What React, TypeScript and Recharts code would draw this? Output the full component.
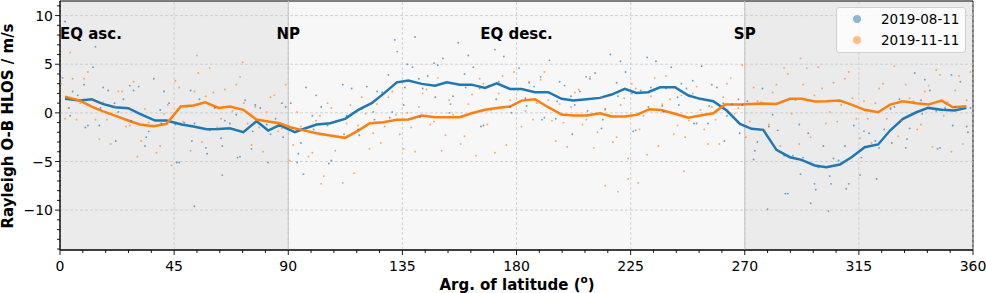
import {
  ComposedChart,
  Line,
  Scatter,
  XAxis,
  YAxis,
  ReferenceArea,
  ReferenceLine,
  ReferenceDot,
  Legend,
} from "recharts";

// binned means (arg. of latitude in deg, O-B in m/s)
const augMean: [number, number][] = [
  [2, 1.44], [7.9, 1.26], [12.5, 1.4], [16.8, 0.92], [21.7, 0.58], [26.9, 0.48],
  [31.5, -0.1], [37.5, -0.79], [42, -0.79], [48, -1.2], [52.6, -1.4], [57.8, -1.68],
  [62.5, -1.65], [67, -1.58], [72.3, -1.99], [77.5, -0.86], [82.1, -1.82], [86.5, -1.25],
  [92.6, -1.99], [96, -1.66], [101.2, -1.2], [106.5, -1.06], [112.4, -0.62], [117.6, 0.3],
  [122.9, 0.99], [127.5, 1.95], [132.8, 3.14], [137.4, 3.32], [142.6, 2.98], [147.9, 2.8],
  [152.5, 3.14], [157.7, 2.9], [162.3, 2.9], [167.6, 2.56], [172.2, 3.04], [177.4, 2.46],
  [182, 2.46], [187.3, 2.12], [192.5, 2.12], [197.8, 1.44], [202.4, 1.26], [207.6, 1.4],
  [212.9, 1.54], [217.5, 1.88], [222.7, 2.46], [227.3, 2.05], [231.9, 2.12], [236.6, 2.63],
  [242.5, 2.63], [247.8, 1.78], [252.4, 1.44], [257.6, 1.19], [262.9, 0.24], [268.1, -1.13],
  [272.7, -1.64], [277.3, -1.75], [282.5, -3.8], [287.8, -4.56], [292.4, -4.83], [297.6, -5.41],
  [302.2, -5.58], [307.5, -5.31], [312.1, -4.56], [317.3, -3.53], [322.6, -3.25], [327.3, -1.82],
  [332.4, -0.62], [337.7, 0.06], [342.3, 0.51], [347.6, 0.31], [352.8, 0.24], [357.4, 0.51],
];

const novMean: [number, number][] = [
  [2, 1.67], [7.9, 1.26], [12.5, 0.65], [16.8, 0.17], [21.7, -0.28], [26.9, -0.79],
  [31.5, -1.2], [36.9, -1.37], [42, -1.13], [47.6, 0.65], [52.6, 0.75], [57.3, 1.09],
  [62.5, 0.51], [67, 0.65], [72.3, 0.31], [77.5, -0.69], [82.1, -0.89], [86.6, -1.06],
  [90.7, -1.48], [95.2, -1.75], [101.2, -2.09], [106.5, -2.33], [112.4, -2.57], [117.6, -1.82],
  [122.2, -1.06], [127.5, -0.96], [132.8, -0.72], [137.4, -0.69], [142.6, -0.28], [147.9, -0.45],
  [152.5, -0.45], [157.7, -0.45], [162.3, -0.04], [167.6, 0.31], [172.2, 0.51], [177.4, 0.65],
  [182, 1.26], [187.3, 1.4], [192.5, 0.58], [197.8, -0.17], [202.4, -0.28], [207.6, -0.28],
  [212.9, -0.04], [217.5, -0.38], [222.7, -0.38], [227.3, -0.21], [232.5, 0.38], [237, 0.3],
  [242.5, -0.1], [247.8, -0.51], [252.4, -0.28], [257.6, -0.04], [262.2, 0.85], [268.1, 0.85],
  [272.7, 0.92], [277.3, 0.95], [282.5, 0.92], [287.8, 1.44], [292.4, 1.44], [297.6, 1.16],
  [302.2, 1.19], [307.5, 1.26], [312.1, 0.85], [317.3, 0.31], [322.6, 0.06], [327.3, 0.85],
  [332.4, 1.19], [337.7, 0.99], [342.3, 0.85], [347.6, 1.26], [352.1, 0.58], [357.4, 0.68],
];

// individual observations (a thinned-out sample of the clouds)
const augObs: [number, number][] = [
  [1, 3.6], [4, -0.3], [7, 1.8], [10, -1.5], [13, 4.7], [16, 0.5], [19, 2.3], [22, -2.9],
  [25, 1.4], [28, -0.8], [31, 2.7], [34, -2.5], [37, 3.5], [40, -1.1], [43, 1.0], [46, -5.1],
  [49, -1.0], [52, -2.9], [55, 1.4], [58, -4.2], [61, 0.5], [64, -3.4], [67, -1.1], [70, -4.6],
  [73, 1.3], [76, -1.9], [79, 0.5], [82, -5.1], [85, -0.6], [88, -2.5], [91, 1.0], [94, -4.2],
  [97, 2.6], [100, -1.7], [103, 0.6], [106, -5.2], [109, -0.8], [112, -2.2], [115, 2.5], [118, -2.3],
  [121, 2.7], [124, -0.7], [127, 2.1], [130, -0.5], [133, 6.3], [136, 2.6], [139, 4.7], [142, -0.4],
  [145, 3.8], [148, 1.6], [151, 5.6], [154, 0.9], [157, 7.2], [160, 2.6], [163, 4.7], [166, -1.4],
  [169, 2.8], [172, 1.4], [175, 5.8], [178, 0.0], [181, 4.6], [184, 0.7], [187, 2.7], [190, -0.7],
  [193, 5.4], [196, 1.2], [199, 2.8], [202, -2.2], [205, 2.2], [208, 0.2], [211, 4.1], [214, -0.7],
  [217, 6.0], [220, 1.7], [223, 4.2], [226, -1.9], [229, 2.3], [232, 0.6], [235, 5.3], [238, 0.1],
  [241, 4.7], [244, 0.8], [247, 2.5], [250, -1.1], [253, 4.8], [256, 0.7], [259, 2.6], [262, -2.9],
  [265, 0.9], [268, -2.1], [271, 1.2], [274, -3.9], [277, 2.5], [280, -2.8], [283, -1.8], [286, -8.3],
  [289, -4.4], [292, -6.3], [295, -2.1], [298, -7.9], [301, -3.4], [304, -7.3], [307, -4.9], [310, -7.8],
  [313, -1.3], [316, -4.6], [319, -2.1], [322, -6.8], [325, -1.7], [328, -3.1], [331, 1.4], [334, -2.7],
  [337, 4.1], [340, -0.1], [343, 2.3], [346, -3.7], [349, 0.5], [352, -1.3], [355, 3.2], [358, -2.0],
  [3.5, 0.5], [9.5, 2.9], [15.5, -1.3], [21.5, 1.0], [27.5, 2.8], [33.5, -3.4], [39.5, 0.3], [45.5, -1.2],
  [51.5, 2.3], [57.5, -3.6], [63.5, -2.6], [69.5, -0.2], [75.5, -3.7], [81.5, -1.2], [87.5, 1.0], [93.5, -5.1],
  [99.5, -0.3], [105.5, -1.3], [111.5, 2.9], [117.5, -1.7], [123.5, 0.1], [129.5, 3.9], [135.5, 0.8], [141.5, 3.5],
  [147.5, 5.1], [153.5, 0.0], [159.5, 4.0], [165.5, 2.5], [171.5, 6.5], [177.5, 0.6], [183.5, 1.5], [189.5, 3.7],
  [195.5, -0.6], [201.5, 1.7], [207.5, 3.7], [213.5, -1.6], [219.5, 3.1], [225.5, 2.0], [231.5, 5.7], [237.5, 0.7],
  [243.5, 1.6], [249.5, 3.3], [255.5, -1.1], [261.5, 1.0], [267.5, 1.4], [273.5, -4.8], [279.5, -1.4], [285.5, -4.4],
  [291.5, -1.2], [297.5, -7.3], [303.5, -6.5], [309.5, -3.4], [315.5, -6.4], [321.5, -2.9], [327.5, 0.4], [333.5, -3.6],
  [339.5, 1.3], [345.5, 0.2], [351.5, 3.9], [357.5, -1.4],
  [5, 2.2], [11, -1.3], [17, 2.6], [23, 0.1], [29, 2.3], [35, -1.9], [41, 2.2], [47, -5.1],
  [53, -1.1], [59, -1.8], [65, -0.8], [71, -4.5], [77, 0.8], [83, -2.2], [89, 0.6], [95, -3.1],
  [101, 1.8], [107, -4.9], [113, -0.3], [119, 0.4], [125, 2.2], [131, 0.1], [137, 5.0], [143, 2.5],
  [149, 4.9], [155, 1.7], [161, 5.9], [167, -1.3], [173, 3.2], [179, 2.4], [185, 3.1], [191, -0.5],
  [197, 3.2], [203, 0.8], [209, 3.5], [215, 0.4], [221, 5.3], [227, -1.8], [233, 2.6], [239, 2.5],
  [245, 3.0], [251, -1.1], [257, 2.9], [263, -0.3], [269, 0.8], [275, -3.0], [281, -0.2], [287, -8.3],
  [293, -4.6], [299, -5.6], [305, -4.7], [311, -7.3], [317, -1.9], [323, -3.6], [329, 0.6], [335, -1.6],
  [341, 3.4], [347, -3.6], [353, 0.6], [359, 0.5],
  [2, 9.4], [14, 6.8], [53, -9.6], [132, 7.5], [140, 7.8], [303, -10.1], [296, -9.3], [279, -9.9],
  [64, -6.4], [96, -6.3],
];

const novObs: [number, number][] = [
  [2, -0.6], [5, 3.5], [8, 1.0], [11, 4.2], [14, -0.7], [17, 1.1], [20, -3.2], [23, 2.2],
  [26, -1.4], [29, 3.2], [32, -2.9], [35, -1.0], [38, -4.1], [41, -0.1], [44, -5.4], [47, 2.6],
  [50, 0.6], [53, 2.2], [56, -3.0], [59, 4.6], [62, -1.5], [65, 2.4], [68, 0.2], [71, 3.7],
  [74, -1.1], [77, 0.6], [80, -4.0], [83, 1.6], [86, -1.9], [89, 2.9], [92, -3.3], [95, -1.4],
  [98, -4.5], [101, -0.8], [104, -6.5], [107, 0.5], [110, -2.5], [113, -1.1], [116, -6.2], [119, 1.6],
  [122, -3.7], [125, 0.9], [128, -1.4], [131, 2.2], [134, -2.2], [137, 0.0], [140, -4.0], [143, 2.0],
  [146, -1.2], [149, 3.6], [152, -2.3], [155, -0.2], [158, -3.2], [161, 0.9], [164, -4.4], [167, 3.0],
  [170, 0.3], [173, 2.0], [176, -3.3], [179, 4.2], [182, -1.4], [185, 3.2], [188, 1.0], [191, 4.2],
  [194, -0.8], [197, 0.9], [200, -3.5], [203, 2.1], [206, -1.2], [209, 3.7], [212, -2.0], [215, 0.3],
  [218, -3.0], [221, 0.8], [224, -4.7], [227, 2.5], [230, -0.3], [233, 1.7], [236, -3.4], [239, 3.8],
  [242, -2.2], [245, 1.8], [248, -0.8], [251, 2.7], [254, -1.7], [257, 0.6], [260, -3.2], [263, 3.0],
  [266, -0.1], [269, 4.9], [272, -0.9], [275, 1.2], [278, -1.8], [281, 2.1], [284, -3.4], [287, 4.0],
  [290, 1.3], [293, 2.9], [296, -2.5], [299, 4.7], [302, -1.1], [305, 3.1], [308, 0.8], [311, 4.2],
  [314, -0.6], [317, 1.2], [320, -3.1], [323, 2.5], [326, -0.6], [329, 4.8], [332, -0.8], [335, 1.5],
  [338, -1.7], [341, 2.2], [344, -3.5], [347, 3.9], [350, 1.1], [353, 2.3], [356, -3.2], [359, 4.2],
  [0.5, 3.0], [6.5, -0.7], [12.5, 1.3], [18.5, -0.7], [24.5, 2.2], [30.5, -4.5], [36.5, -1.3], [42.5, 0.8],
  [48.5, -0.9], [54.5, 4.1], [60.5, 2.1], [66.5, -1.5], [72.5, 1.0], [78.5, -1.5], [84.5, 1.8], [90.5, -4.9],
  [96.5, -1.7], [102.5, -0.3], [108.5, -3.9], [114.5, 0.8], [120.5, -0.1], [126.5, -3.1], [132.5, -0.2], [138.5, -1.5],
  [144.5, 2.4], [150.5, -3.9], [156.5, -0.4], [162.5, 1.9], [168.5, -1.2], [174.5, 3.8], [180.5, 2.3], [186.5, -0.7],
  [192.5, 1.3], [198.5, -1.0], [204.5, 2.4], [210.5, -3.6], [216.5, -0.2], [222.5, 1.5], [228.5, -1.7], [234.5, 3.6],
  [240.5, 1.4], [246.5, -2.5], [252.5, 0.3], [258.5, -0.7], [264.5, 3.6], [270.5, -2.5], [276.5, 1.1], [282.5, 2.9],
  [288.5, -0.1], [294.5, 4.6], [300.5, 2.5], [306.5, -0.9], [312.5, 1.5], [318.5, -0.6], [324.5, 3.0], [330.5, -2.4],
  [336.5, 1.2], [342.5, 2.8], [348.5, -0.3], [354.5, 3.8],
  [3.5, 0.5], [9.5, 3.5], [15.5, -2.7], [21.5, 0.7], [27.5, -1.3], [33.5, 0.4], [39.5, -3.4], [45.5, 3.3],
  [51.5, -3.9], [57.5, 1.7], [63.5, -0.6], [69.5, 2.9], [75.5, -3.3], [81.5, 0.1], [87.5, -1.6], [93.5, 0.1],
  [99.5, -4.1], [105.5, 1.0], [111.5, -7.2], [117.5, -1.3], [123.5, -2.1], [129.5, 1.6], [135.5, -3.7], [141.5, 0.6],
  [147.5, -0.9], [153.5, 1.3], [159.5, -2.4], [165.5, 3.5], [171.5, -4.1], [177.5, 1.3], [183.5, 0.2], [189.5, 3.4],
  [195.5, -2.9], [201.5, 0.6], [207.5, -0.7], [213.5, 1.6], [219.5, -2.5], [225.5, 3.0], [231.5, -4.3], [237.5, 0.9],
  [243.5, -1.3], [249.5, 2.0], [255.5, -3.2], [261.5, 1.6], [267.5, 0.5], [273.5, 2.6], [279.5, -1.2], [285.5, 4.6],
  [291.5, -3.2], [297.5, 1.8], [303.5, 0.1], [309.5, 3.5], [315.5, -2.6], [321.5, 1.0], [327.5, 0.5], [333.5, 2.9],
  [339.5, -1.2], [345.5, 4.4], [351.5, -4.0], [357.5, 1.3],
  [215, -7.5], [220, -8.1], [224, -6.8], [228, -7.2], [103, -7.3], [72, 5.2], [4, 6.2], [54, 5.9],
  [292, 5.6], [246, -6.0],
];

const seriesNames = ["2019-08-11", "2019-11-11"];
const xMajor = [0, 45, 90, 135, 180, 225, 270, 315, 360];
const yMajor = [-10, -5, 0, 5, 10];
const regions = [
  { label: "EQ asc.", at: 0 },
  { label: "NP", at: 90 },
  { label: "EQ desc.", at: 180 },
  { label: "SP", at: 270 },
];

const BLUE = "#1f77b4";
const ORANGE = "#ff7f0e";
const FONT = "DejaVu Sans";
const FS = 15;
const TICK_FS = 14;
const LEG_FS = 13.5;
const Y_MIN = -14.1;
const Y_MAX = 11.5;

const toPts = (arr: [number, number][]) => arr.map(([x, y]) => ({ x, y }));

const xTicks: number[] = [];
for (let v = 0; v <= 360; v += 9) xTicks.push(v);
const yTicks: number[] = [];
for (let v = -14; v <= 11; v += 1) yTicks.push(v);

const fmt = (v: number) => (v < 0 ? "\u2212" + Math.abs(v) : String(v));

const XTick = ({ x, y, payload }: any) => {
  const major = payload.value % 45 === 0;
  return (
    <g>
      <line x1={x} x2={x} y1={y} y2={y + (major ? 5 : 3)} stroke="#000" strokeWidth={0.9} />
      {major && (
        <text x={x} y={y + 20.5} textAnchor="middle" fontSize={TICK_FS} fontFamily={FONT} fill="#000">
          {payload.value}
        </text>
      )}
    </g>
  );
};

const YTick = ({ x, y, payload }: any) => {
  const major = payload.value % 5 === 0;
  return (
    <g>
      <line x1={x} x2={x - (major ? 5 : 3)} y1={y} y2={y} stroke="#000" strokeWidth={0.9} />
      {major && (
        <text x={x - 7} y={y + 5.2} textAnchor="end" fontSize={TICK_FS} fontFamily={FONT} fill="#000">
          {fmt(payload.value)}
        </text>
      )}
    </g>
  );
};

const dot = (color: string) => (p: any) => (
  <circle cx={p.cx} cy={p.cy} r={0.95} fill={color} fillOpacity={0.65} />
);

const LegendBox = () => (
  <div
    style={{
      width: 130,
      height: 46,
      boxSizing: "border-box",
      background: "rgba(255,255,255,0.8)",
      border: "1px solid #d0d0d0",
      borderRadius: 3,
      fontFamily: FONT,
      fontSize: LEG_FS,
      color: "#000",
      position: "relative",
      whiteSpace: "nowrap",
    }}
  >
    {seriesNames.map((name, i) => (
      <div key={name} style={{ position: "absolute", left: 0, top: 2 + i * 21, height: 19, width: 128 }}>
        <span
          style={{
            position: "absolute",
            left: 16,
            top: 5,
            width: 8,
            height: 8,
            borderRadius: 4,
            background: i === 0 ? BLUE : ORANGE,
            opacity: 0.5,
          }}
        />
        <span style={{ position: "absolute", left: 44, top: 0, lineHeight: "19px" }}>{name}</span>
      </div>
    ))}
  </div>
);

export default function App() {
  return (
    <div style={{ position: "absolute", left: 0, top: 0, width: 986, height: 293, background: "#fff" }}>
      <ComposedChart
        width={986}
        height={293}
        margin={{ top: 1, right: 13, bottom: 0, left: 0 }}
        style={{ fontFamily: FONT }}
      >
        <XAxis
          dataKey="x"
          type="number"
          domain={[0, 360]}
          ticks={xTicks}
          interval={0}
          tick={XTick}
          tickSize={0}
          tickMargin={0}
          tickLine={false}
          height={43}
          axisLine={{ stroke: "#000" }}
          allowDataOverflow
          label={{
            content: () => (
              <text x={517} y={290} textAnchor="middle" fontSize={FS} fontWeight="bold" fontFamily={FONT} fill="#000">
                Arg. of latitude (
                <tspan fontSize={10.5} dy={-7}>o</tspan>
                <tspan dy={7}>)</tspan>
              </text>
            ),
          }}
        />
        <YAxis
          type="number"
          domain={[Y_MIN, Y_MAX]}
          ticks={yTicks}
          interval={0}
          tick={YTick}
          tickSize={0}
          tickMargin={0}
          tickLine={false}
          width={60}
          axisLine={{ stroke: "#000" }}
          allowDataOverflow
          label={{
            content: () => (
              <text
                x={0}
                y={0}
                transform="translate(13,126) rotate(-90)"
                textAnchor="middle"
                fontSize={FS}
                fontWeight="bold"
                fontFamily={FONT}
                fill="#000"
              >
                Rayleigh O-B HLOS / m/s
              </text>
            ),
          }}
        />
        <ReferenceArea x1={0} x2={360} y1={Y_MIN} y2={Y_MAX} fill="#f7f7f7" fillOpacity={1} stroke="none" />
        <ReferenceArea x1={0} x2={90} y1={Y_MIN} y2={Y_MAX} fill="#ebebeb" fillOpacity={1} stroke="none" />
        <ReferenceArea x1={270} x2={360} y1={Y_MIN} y2={Y_MAX} fill="#ebebeb" fillOpacity={1} stroke="none" />
        {xMajor.map((v) => (
          <ReferenceLine key={"gx" + v} x={v} stroke="#c8c8c8" strokeWidth={0.8} strokeDasharray="3 2" />
        ))}
        {yMajor.map((v) => (
          <ReferenceLine key={"gy" + v} y={v} stroke="#c8c8c8" strokeWidth={0.8} strokeDasharray="3 2" />
        ))}
        <ReferenceLine x={90} stroke="#c4c4c4" strokeWidth={1} />
        <ReferenceLine x={270} stroke="#c4c4c4" strokeWidth={1} />
        <Scatter data={toPts(augObs)} dataKey="y" shape={dot(BLUE)} isAnimationActive={false} />
        <Scatter data={toPts(novObs)} dataKey="y" shape={dot(ORANGE)} isAnimationActive={false} />
        <Line
          data={toPts(augMean)}
          dataKey="y"
          type="linear"
          stroke={BLUE}
          strokeWidth={2.5}
          dot={false}
          isAnimationActive={false}
        />
        <Line
          data={toPts(novMean)}
          dataKey="y"
          type="linear"
          stroke={ORANGE}
          strokeWidth={2.5}
          dot={false}
          isAnimationActive={false}
        />
        {regions.map((r) => (
          <ReferenceDot
            key={r.label}
            x={r.at}
            y={8.1}
            r={0}
            fill="none"
            stroke="none"
            label={{
              value: r.label,
              position: r.at === 0 ? "right" : "center",
              offset: 0,
              fill: "#000",
              fontSize: FS,
              fontWeight: "bold",
              fontFamily: FONT,
            }}
          />
        ))}
        <ReferenceArea x1={0} x2={360} y1={Y_MIN} y2={Y_MAX} fill="none" stroke="#000" strokeWidth={1} />
        <Legend
          layout="vertical"
          align="center"
          verticalAlign="middle"
          content={LegendBox}
          wrapperStyle={{ top: 7, left: 836, width: 130, height: 46 }}
        />
      </ComposedChart>
    </div>
  );
}
